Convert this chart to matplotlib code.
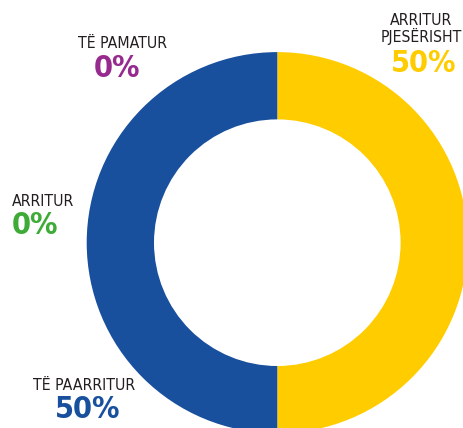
import matplotlib.pyplot as plt

# wedges go clockwise from 12 o'clock
labels = ["ARRITUR\nPJESËRISHT", "TË PAARRITUR", "TË PAMATUR", "ARRITUR"]
values = [50, 50, 0, 0]
colors = ["#ffcc00", "#18509e", "#972a8e", "#3fab37"]

plt.rcParams['font.family'] = ['DejaVu Sans']
plt.rcParams['font.stretch'] = 'condensed'

fig = plt.figure(figsize=(4.64, 4.28), dpi=100)
ax = fig.add_axes([0, 0, 1, 1])

# pixel coords, y up
cx, cy = 277.3, 428 - 242.7
r_out = 190.6
r_in = 123.3
ax.pie(values, colors=colors, center=(cx, cy), radius=r_out, startangle=90,
       counterclock=False, wedgeprops=dict(width=r_out - r_in, linewidth=0))
ax.set_xlim(0, 464)
ax.set_ylim(0, 428)
ax.set_aspect('equal')
ax.axis('off')

# label positions: (label x, label y, value x, value y, ha)
spots = [
    (421, 428 - 29, 424, 428 - 63, 'center'),
    (84, 428 - 386, 88, 428 - 410, 'center'),
    (123, 428 - 43, 117, 428 - 68, 'center'),
    (12, 428 - 201, 12, 428 - 226, 'left'),
]

for lab, v, c, (xl, yl, xv, yv, ha) in zip(labels, values, colors, spots):
    ax.text(xl, yl, lab, ha=ha, va='center', fontsize=11.3, color='#231f20',
            linespacing=1.05)
    ax.text(xv, yv, f"{v}%", ha=ha, va='center', fontsize=22, color=c,
            fontweight='bold')

fig.savefig("out.png", dpi=100)
